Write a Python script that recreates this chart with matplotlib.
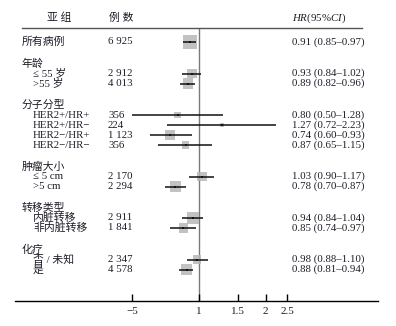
#!/usr/bin/env python3
"""Subgroup forest plot (HR, 95% CI)"""

import matplotlib
matplotlib.use('Agg')
import matplotlib.pyplot as plt
import matplotlib.transforms as mtransforms

# data
groups = ['所有病例', '年龄', '分子分型', '肿瘤大小', '转移类型', '化疗']
subgroups = [
    [''],
    ['≤ 55 岁', '>55 岁'],
    ['HER2+/HR+', 'HER2+/HR−', 'HER2−/HR+', 'HER2−/HR−'],
    ['≤ 5 cm', '>5 cm'],
    ['内脏转移', '非内脏转移'],
    ['否 / 未知', '是'],
]
counts = [6925, 2912, 4013, 356, 224, 1123, 356, 2170, 2294, 2911, 1841, 2347, 4578]
hr = [0.91, 0.93, 0.89, 0.80, 1.27, 0.74, 0.87, 1.03, 0.78, 0.94, 0.85, 0.98, 0.88]
ci_low = [0.85, 0.84, 0.82, 0.50, 0.72, 0.60, 0.65, 0.90, 0.70, 0.84, 0.74, 0.88, 0.81]
ci_high = [0.97, 1.02, 0.96, 1.28, 2.23, 0.93, 1.15, 1.17, 0.87, 1.04, 0.97, 1.10, 0.94]
# relative box weights (area), estimated from the square sizes
weights = [100, 50, 58, 22, 10, 58, 30, 48, 70, 70, 48, 40, 68]
xticks = [0.5, 1, 1.5, 2, 2.5]
xtick_labels = ['−5', '1', '1.5', '2', '2.5']

W, H = 396, 326
TEXT = '#1c1c28'
FONT = ['Liberation Serif', 'Noto Sans CJK SC']


def main():
    plt.rcParams['font.family'] = FONT
    plt.rcParams['mathtext.fontset'] = 'custom'
    plt.rcParams['mathtext.rm'] = 'Liberation Serif'
    plt.rcParams['mathtext.it'] = 'Liberation Serif:italic'
    plt.rcParams['axes.unicode_minus'] = False

    fig = plt.figure(figsize=(W / 100, H / 100), dpi=100)
    x0, x1, y_axis, y_top = 15, 378, 301, 28
    ax = fig.add_axes([x0 / W, (H - y_axis) / H, (x1 - x0) / W, (y_axis - y_top) / H])
    ax.set_xscale('log')
    ppl = 96.0  # pixels per ln unit
    import math
    ax.set_xlim(math.exp((x0 - 199) / ppl), math.exp((x1 - 199) / ppl))
    ax.set_ylim(y_axis, y_top)
    for s in ['left', 'right', 'top']:
        ax.spines[s].set_visible(False)
    ax.spines['bottom'].set_linewidth(1.0)
    ax.set_yticks([])
    ax.set_xticks(xticks)
    ax.set_xticklabels(xtick_labels)
    ax.xaxis.set_minor_locator(matplotlib.ticker.NullLocator())
    ax.tick_params(axis='x', direction='in', length=5, width=1, pad=4,
                   labelsize=8, labelcolor=TEXT)
    ax.patch.set_alpha(0)

    blend = mtransforms.blended_transform_factory(fig.transFigure, ax.transData)

    # row layout
    top, line, gap = 42, 10, 11.5
    li = 0
    rows_y = []
    for g, (name, subs) in enumerate(zip(groups, subgroups)):
        y = top + line * li + gap * g
        ax.text(22 / W, y, name, transform=blend, fontsize=7.8, color=TEXT,
                va='center', ha='left', clip_on=False)
        if subs == ['']:
            rows_y.append(y)
            li += 1
            continue
        li += 1
        for s in subs:
            y = top + line * li + gap * g
            ax.text(33 / W, y, s, transform=blend, fontsize=7.8, color=TEXT,
                    va='center', ha='left', clip_on=False)
            rows_y.append(y)
            li += 1

    for i, y in enumerate(rows_y):
        ax.text(108 / W, y, f'{counts[i]:,}'.replace(',', ' '), transform=blend,
                fontsize=7.8, color=TEXT, va='center', ha='left', clip_on=False)
        ax.text(292 / W, y, f'{hr[i]:.2f} ({ci_low[i]:.2f}–{ci_high[i]:.2f})',
                transform=blend, fontsize=7.8, color=TEXT, va='center',
                ha='left', clip_on=False)

    # header
    ax.text(59 / W, 18, '亚 组', transform=blend, fontsize=7.8, color=TEXT,
            va='center', ha='center', clip_on=False)
    ax.text(121 / W, 18, '例 数', transform=blend, fontsize=7.8, color=TEXT,
            va='center', ha='center', clip_on=False)
    ax.text(292 / W, 18, r'$\mathit{HR}$(95%$\mathit{CI}$)', transform=blend,
            fontsize=7.8, color=TEXT, va='center', ha='left', clip_on=False)
    ax.plot([22 / W, 362 / W], [28, 28], transform=blend, color='#555555',
            lw=1.0, clip_on=False)

    # reference line
    ax.axvline(1, color='#7a7a7a', lw=1.0, zorder=1)

    # boxes, CIs and points
    max_px = 13.5
    sizes = [(max_px * (w / 100) ** 0.5 * 0.72) ** 2 for w in weights]
    ax.scatter(hr, rows_y, s=sizes, marker='s', color='#b8b8b8', alpha=0.85,
               linewidths=0, zorder=2, clip_on=False)
    ax.hlines(rows_y, ci_low, ci_high, color='#111111', lw=1.1, zorder=3)
    ax.scatter(hr, rows_y, s=3, marker='s', color='#111111', linewidths=0,
               zorder=4)

    plt.savefig('out.png', dpi=100)
    plt.close()


if __name__ == '__main__':
    main()
